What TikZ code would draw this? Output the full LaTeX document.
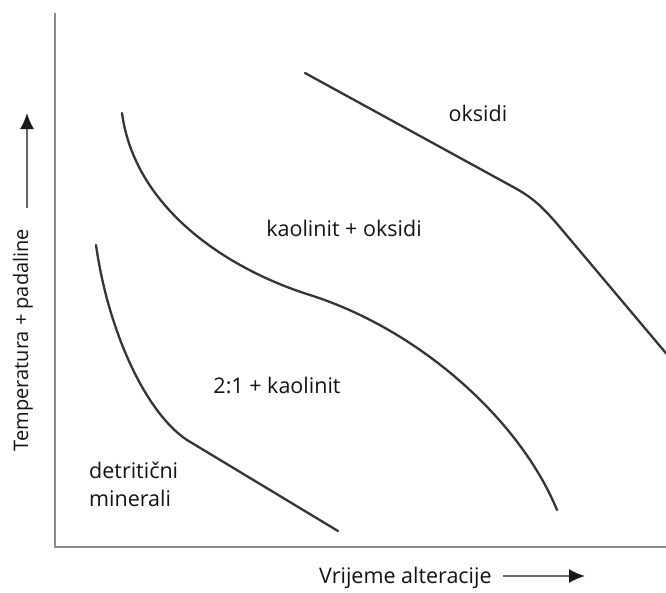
\documentclass[tikz,border=0pt]{standalone}
\usepackage{fontspec}
\setmainfont{Open Sans}
\usetikzlibrary{arrows.meta}
\definecolor{axisgray}{HTML}{8C8C8C}
\definecolor{curvegray}{HTML}{353535}
\definecolor{textcol}{HTML}{141414}
\tikzset{
  axisline/.style={draw=axisgray, line width=2.2pt},
  curve/.style={draw=curvegray, line width=2.3pt, line cap=round, line join=round},
  lbl/.style={font=\fontsize{21.5}{28}\selectfont, text=textcol, inner sep=0pt},
  ylbl/.style={font=\fontsize{20}{26}\selectfont, text=textcol, inner sep=0pt},
  dirarrow/.style={draw=black!60, line width=1.8pt, -{Latex[length=16pt,width=14pt,color=black!90]}}
}
\begin{document}
\begin{tikzpicture}[x=1pt,y=-1pt]
\useasboundingbox (0,0) rectangle (666,592);
\fill[white] (0,0) rectangle (666,592);
% axes
\coordinate (top) at (55,13);
\coordinate (origin) at (55,547);
\coordinate (right) at (666,547);
\draw[axisline] (top) -- (origin) -- (right);
% curves
\draw[curve] (96,245) .. controls (108,330) and (145,412) .. (187,440) -- (338,531);
\draw[curve] (122,113) .. controls (135,210) and (230,270) .. (310,295)
                       .. controls (420,330) and (520,420) .. (557,510);
\draw[curve] (305,73) -- (515,188) .. controls (535,199) and (545,210) .. (558,225) -- (670,358);
% region labels
\node[lbl] (oks) at (478,113) {oksidi};
\node[lbl] (kao) at (344,228) {kaolinit + oksidi};
\node[lbl] (two) at (277,385) {2:1 + kaolinit};
\node[lbl, anchor=west, align=left] (det) at (89,484) {detritični\\minerali};
% axis labels
\node[lbl, anchor=west] (xl) at (319,578) {Vrijeme alteracije};
\coordinate (xa1) at (503,576);
\coordinate (xa2) at (585,576);
\draw[dirarrow] (xa1) -- (xa2);
\node[ylbl, rotate=90] (yl) at (23,340) {Temperatura + padaline};
\coordinate (ya1) at (27,208);
\coordinate (ya2) at (27,113);
\draw[dirarrow] (ya1) -- (ya2);
\end{tikzpicture}
\end{document}
